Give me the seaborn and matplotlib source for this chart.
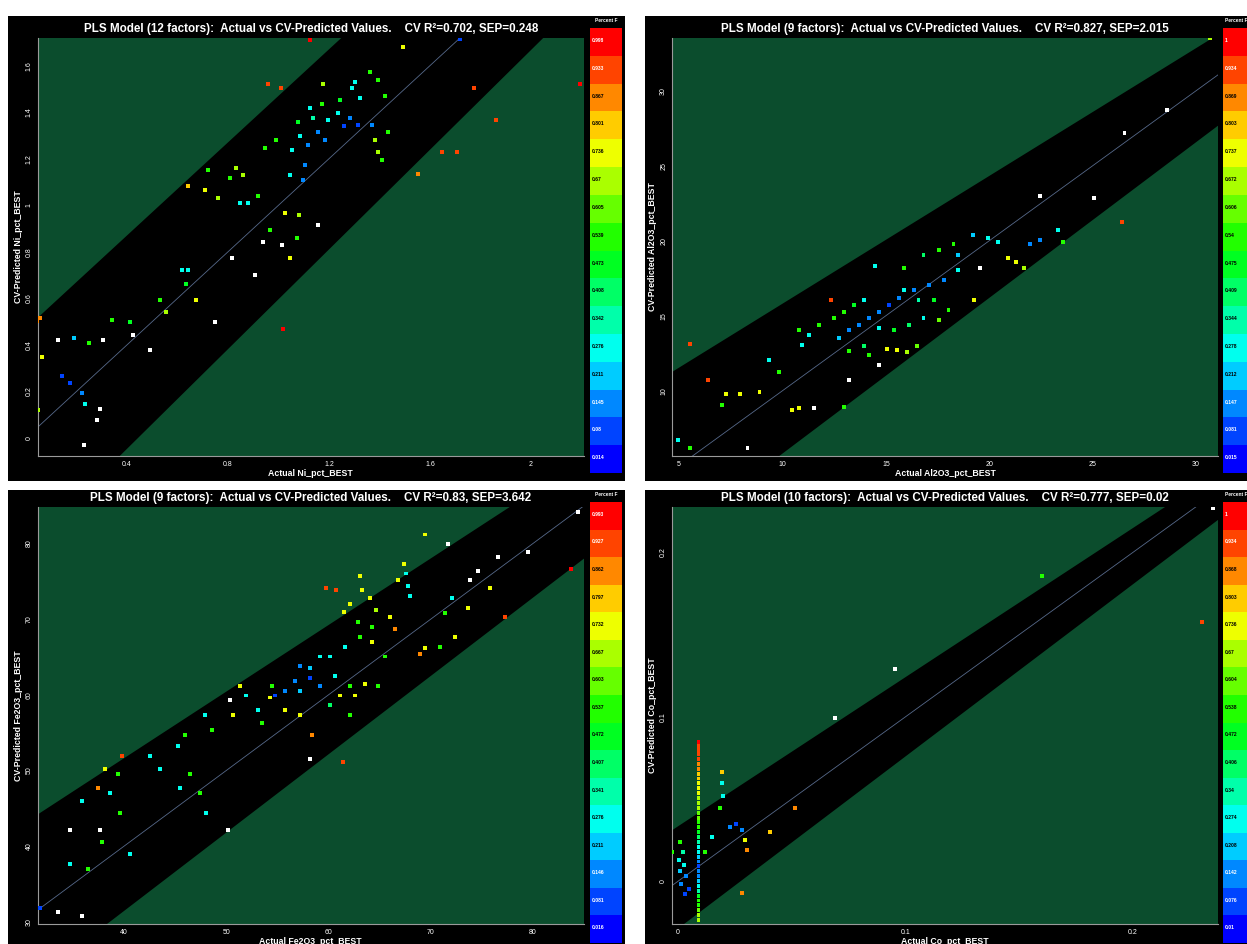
import colorsys

import numpy as np
import pandas as pd
import matplotlib.pyplot as plt
import seaborn as sns
from matplotlib.patches import Rectangle

# ---- data: actual vs CV-predicted, and "Percent F" of each sample (-1 = drawn white) ----
ni_actual = [1.125, 1.493, 1.719, 2.194, 1.775, 1.862, 1.648, 1.707, 1.553, 0.959,
             1.010, 1.018, 0.056, 0.046, 0.064, 0.048, 0.230, 0.293, 0.281, 0.175,
             0.222, 0.143, 0.234, 0.191, 0.250, 0.127, 0.341, 0.412, 0.305, 0.424,
             0.492, 0.531, 0.555, 0.618, 0.642, 0.634, 0.674, 0.749, 0.642, 0.709,
             0.761, 0.721, 0.808, 0.832, 0.860, 0.848, 0.880, 0.919, 0.947, 0.990,
             1.026, 1.081, 1.157, 1.073, 1.014, 1.046, 0.939, 0.816, 1.085, 1.157,
             1.185, 1.117, 1.054, 1.105, 1.097, 1.046, 1.260, 1.315, 1.371, 1.236,
             1.283, 1.196, 1.137, 1.078, 1.422, 1.323, 1.244, 1.173, 1.125, 1.363,
             1.303, 1.394, 1.292, 1.177, 1.383, 1.434, 1.394, 1.410, 0.967, 0.907]
ni_pred = [1.710, 1.680, 1.715, 1.521, 1.504, 1.366, 1.229, 1.229, 1.134, 1.521,
           1.504, 0.469, 0.516, 0.503, 0.348, 0.121, -0.030, 0.125, 0.078, 0.237,
           0.194, 0.267, 0.146, 0.430, 0.408, 0.421, 0.507, 0.499, 0.421, 0.443,
           0.378, 0.593, 0.542, 0.722, 0.722, 0.662, 0.593, 0.499, 1.083, 1.066,
           1.031, 1.152, 1.117, 1.160, 1.130, 1.010, 1.010, 1.040, 1.246, 1.280,
           0.967, 0.958, 0.915, 0.860, 0.830, 0.774, 0.842, 0.774, 1.298, 1.315,
           1.281, 1.259, 1.238, 1.173, 1.109, 1.130, 1.341, 1.345, 1.345, 1.396,
           1.375, 1.366, 1.375, 1.358, 1.470, 1.461, 1.452, 1.435, 1.418, 1.573,
           1.530, 1.538, 1.504, 1.521, 1.281, 1.315, 1.229, 1.195, 0.894, 0.701]
ni_pf = [0.99, 0.74, 0.08, 0.99, 0.93, 0.93, 0.93, 0.93, 0.88, 0.93,
         0.93, 0.99, 0.87, 0.87, 0.73, 0.70, -1, -1, -1, 0.08,
         0.14, 0.08, 0.27, 0.20, 0.50, -1, 0.50, 0.45, -1, -1,
         -1, 0.55, 0.70, 0.30, 0.27, 0.45, 0.75, -1, 0.80, 0.73,
         0.70, 0.55, 0.50, 0.70, 0.70, 0.30, 0.30, 0.50, 0.50, 0.55,
         0.75, 0.70, -1, 0.50, -1, 0.72, -1, -1, 0.30, 0.14,
         0.10, 0.12, 0.28, 0.10, 0.14, 0.25, 0.08, 0.08, 0.10, 0.25,
         0.15, 0.30, 0.33, 0.45, 0.50, 0.30, 0.45, 0.55, 0.30, 0.50,
         0.30, 0.55, 0.28, 0.70, 0.70, 0.50, 0.70, 0.50, 0.50, -1]

al_actual = [30.67, 28.60, 26.54, 25.05, 26.44, 22.45, 22.45, 21.97, 20.43, 20.91,
             21.30, 21.68, 19.56, 19.28, 18.27, 17.55, 16.82, 15.86, 14.47, 18.51,
             17.79, 17.07, 16.34, 15.62, 15.14, 14.66, 14.18, 13.70, 13.22, 12.74,
             15.86, 16.58, 17.31, 18.03, 17.55, 16.82, 16.10, 15.38, 14.66, 13.94,
             13.46, 12.98, 12.50, 12.35, 11.78, 11.30, 10.81, 10.96, 13.22, 13.94,
             15.04, 15.53, 16.01, 16.49, 14.18, 14.66, 13.22, 12.98, 11.53, 10.48,
             10.81, 9.85, 9.37, 8.89, 7.93, 7.26, 7.06, 6.39, 5.53, 4.95,
             5.53, 8.31, 19.23, 19.95, 23.32, 23.56, 18.51]
al_pred = [33.50, 28.72, 27.18, 22.85, 21.25, 22.98, 20.05, 19.78, 19.92, 18.85,
           18.58, 18.18, 18.18, 16.05, 19.78, 19.38, 19.05, 18.18, 18.32, 18.05,
           17.38, 17.05, 16.72, 16.18, 15.72, 15.25, 14.85, 14.38, 14.05, 13.52,
           16.72, 16.05, 16.05, 15.38, 14.72, 14.85, 14.38, 14.05, 14.18, 16.05,
           15.72, 15.25, 14.85, 16.05, 14.38, 13.72, 14.05, 13.05, 12.65, 12.98,
           12.78, 12.72, 12.58, 12.98, 12.38, 11.72, 10.72, 8.92, 8.85, 8.72,
           8.85, 11.25, 12.05, 9.92, 9.78, 9.78, 9.05, 10.72, 13.12, 6.72,
           6.18, 6.18, 20.38, 20.18, 20.72, 19.92, 19.05]
al_pf = [0.70, -1, -1, -1, 0.95, -1, 0.15, 0.10, 0.25, 0.72,
         0.74, 0.70, -1, 0.75, 0.50, 0.55, 0.40, 0.50, 0.30, 0.30,
         0.15, 0.10, 0.10, 0.10, 0.08, 0.12, 0.10, 0.15, 0.10, 0.20,
         0.30, 0.35, 0.45, 0.55, 0.60, 0.30, 0.40, 0.45, 0.30, 0.30,
         0.45, 0.50, 0.55, 0.90, 0.50, 0.30, 0.55, 0.30, 0.50, 0.40,
         0.75, 0.73, 0.70, 0.60, 0.55, -1, -1, 0.55, -1, 0.72,
         0.72, 0.55, 0.30, 0.75, 0.72, 0.72, 0.55, 0.95, 0.95, 0.30,
         0.50, -1, 0.20, 0.25, 0.25, 0.55, 0.20]

fe_actual = [84.40, 83.71, 77.26, 79.51, 76.57, 74.62, 73.84, 71.69, 69.44, 67.39,
             67.58, 67.78, 67.97, 66.80, 66.01, 66.50, 69.44, 68.95, 63.08, 59.76,
             60.74, 63.28, 64.06, 64.64, 62.10, 61.52, 62.89, 64.26, 65.53, 63.08,
             64.26, 61.61, 60.15, 59.17, 58.19, 57.21, 58.19, 59.17, 56.72, 55.74,
             54.77, 57.21, 60.64, 62.10, 61.12, 62.59, 63.57, 64.84, 60.15, 62.10,
             57.21, 58.39, 61.42, 58.19, 54.47, 54.28, 55.74, 51.34, 51.93, 53.10,
             53.50, 50.37, 50.66, 47.92, 48.61, 45.96, 45.28, 43.52, 42.54, 39.80,
             39.41, 38.14, 38.63, 35.89, 37.46, 37.65, 37.85, 40.59, 34.72, 34.72,
             36.48, 31.78, 33.54, 35.89, 47.43, 48.02, 50.17, 45.48, 46.45, 39.61,
             72.08, 71.39, 73.64, 75.79, 72.37, 70.90]
fe_pred = [84.16, 76.68, 70.23, 78.87, 78.22, 76.42, 75.13, 79.90, 81.19, 77.32,
           76.03, 74.35, 73.06, 75.13, 70.23, 68.68, 66.23, 65.45, 75.65, 74.10,
           73.84, 73.84, 72.81, 71.26, 72.03, 71.00, 69.58, 68.94, 65.07, 67.65,
           67.00, 66.36, 65.07, 65.07, 63.52, 63.78, 62.23, 61.20, 61.84, 60.55,
           59.91, 60.55, 62.49, 61.20, 59.91, 59.91, 61.46, 61.20, 58.62, 57.33,
           57.33, 54.75, 51.14, 51.52, 61.20, 59.65, 57.98, 61.20, 59.91, 57.98,
           56.30, 59.26, 57.33, 57.33, 55.39, 54.75, 53.20, 50.23, 51.91, 51.91,
           49.59, 50.23, 47.01, 45.97, 47.65, 42.10, 40.56, 39.01, 42.10, 37.59,
           36.94, 31.78, 31.27, 30.75, 47.01, 44.43, 42.10, 47.65, 49.59, 44.43,
           72.81, 70.87, 71.52, 74.10, 67.65, 66.36]
fe_pf = [-1, 0.99, 0.95, -1, -1, -1, -1, -1, 0.75, 0.75,
         0.30, 0.25, 0.30, 0.72, 0.72, 0.85, 0.75, 0.85, 0.72, 0.95,
         0.95, 0.72, 0.72, 0.70, 0.72, 0.72, 0.55, 0.55, 0.50, 0.50,
         0.72, 0.30, 0.25, 0.30, 0.20, 0.10, 0.08, 0.10, 0.12, 0.10,
         0.08, 0.20, 0.30, 0.50, 0.72, 0.72, 0.72, 0.50, 0.40, 0.50,
         0.72, 0.85, 0.95, -1, 0.50, 0.72, 0.72, 0.72, 0.30, 0.30,
         0.55, -1, 0.72, 0.30, 0.50, 0.55, 0.30, 0.30, 0.30, 0.95,
         0.50, 0.75, 0.30, 0.30, 0.85, -1, 0.50, 0.30, -1, 0.30,
         0.50, 0.08, -1, -1, 0.50, 0.30, -1, 0.30, 0.50, 0.50,
         0.30, 0.50, 0.72, 0.72, 0.72, 0.55]

co_actual = [0.009] * 38 + [
    0.001, 0.002, 0.0005, 0.0025, 0.001, 0.0035, 0.0015, 0.005, 0.003,
    -0.0026, 0.0119, 0.0150, 0.0185, 0.0198, 0.0194, 0.0194, 0.0229, 0.0255, 0.0282,
    0.0295, 0.0303, 0.0281, 0.0404, 0.0514, 0.0690, 0.0954, 0.1600, 0.2303, 0.2351]
co_pred = [0.0845, 0.0821, 0.0797, 0.0774, 0.0744, 0.0714, 0.0684, 0.0655, 0.0625, 0.0595,
           0.0566, 0.0536, 0.0506, 0.0477, 0.0447, 0.0417, 0.0387, 0.0358, 0.0328, 0.0298,
           0.0269, 0.0239, 0.0209, 0.0180, 0.0150, 0.0120, 0.0090, 0.0061, 0.0031, 0.0001,
           -0.0028, -0.0058, -0.0088, -0.0117, -0.0147, -0.0177, -0.0207, -0.0236,
           0.0239, 0.0180, 0.0132, 0.0096, 0.0061, 0.0031, -0.0016, -0.0046, -0.0080,
           0.0180, 0.0180, 0.0269, 0.0447, 0.0518, 0.0595, 0.0667, 0.0328, 0.0346, 0.0310,
           0.0251, 0.0191, -0.0070, 0.0298, 0.0447, 0.0993, 0.1290, 0.1855, 0.1575, 0.2270]
co_pf = [0.97, 0.95, 0.95, 0.93, 0.90, 0.87, 0.85, 0.82, 0.80, 0.75,
         0.75, 0.72, 0.70, 0.68, 0.65, 0.62, 0.58, 0.55, 0.50, 0.45,
         0.40, 0.35, 0.30, 0.25, 0.18, 0.10, 0.05, 0.10, 0.15, 0.20,
         0.30, 0.35, 0.45, 0.50, 0.55, 0.60, 0.65, 0.70,
         0.50, 0.35, 0.30, 0.25, 0.20, 0.15, 0.10, 0.08, 0.05,
         0.50, 0.50, 0.30, 0.50, 0.30, 0.30, 0.80, 0.10, 0.08, 0.12,
         0.72, 0.85, 0.85, 0.80, 0.85, -1, -1, 0.50, 0.95, -1]

titles = [
    "PLS Model (12 factors):  Actual vs CV-Predicted Values.    CV R\u00b2=0.702, SEP=0.248",
    "PLS Model (9 factors):  Actual vs CV-Predicted Values.    CV R\u00b2=0.827, SEP=2.015",
    "PLS Model (9 factors):  Actual vs CV-Predicted Values.    CV R\u00b2=0.83, SEP=3.642",
    "PLS Model (10 factors):  Actual vs CV-Predicted Values.    CV R\u00b2=0.777, SEP=0.02",
]
analytes = ["Ni", "Al2O3", "Fe2O3", "Co"]
key_labels = [
    ["0.998", "0.933", "0.867", "0.801", "0.736", "0.67", "0.605", "0.539",
     "0.473", "0.408", "0.342", "0.276", "0.211", "0.145", "0.08", "0.014"],
    ["1", "0.934", "0.869", "0.803", "0.737", "0.672", "0.606", "0.54",
     "0.475", "0.409", "0.344", "0.278", "0.212", "0.147", "0.081", "0.015"],
    ["0.993", "0.927", "0.862", "0.797", "0.732", "0.667", "0.603", "0.537",
     "0.472", "0.407", "0.341", "0.276", "0.211", "0.146", "0.081", "0.016"],
    ["1", "0.934", "0.868", "0.803", "0.736", "0.67", "0.604", "0.538",
     "0.472", "0.406", "0.34", "0.274", "0.208", "0.142", "0.076", "0.01"],
]

x_limits = [(0.046, 2.21), (4.66, 31.06), (31.54, 84.99), (-0.00264, 0.2374)]
y_limits = [(-0.077, 1.721), (5.65, 33.55), (29.72, 84.82), (-0.026, 0.2276)]
x_ticks = [[0.4, 0.8, 1.2, 1.6, 2], [5, 10, 15, 20, 25, 30], [40, 50, 60, 70, 80], [0, 0.1, 0.2]]
y_ticks = [[0, 0.2, 0.4, 0.6, 0.8, 1, 1.2, 1.4, 1.6], [10, 15, 20, 25, 30],
           [30, 40, 50, 60, 70, 80], [0, 0.1, 0.2]]
# edges of the black acceptance band: (slope, intercept)
band_upper = [(1.0, 0.47), (0.852, 7.28), (0.880, 16.42), (0.907, 0.0334)]
band_lower = [(1.071, -0.475), (1.038, -4.57), (1.035, -9.96), (1.047, -0.0288)]

panels = [
    (ni_actual, ni_pred, ni_pf),
    (al_actual, al_pred, al_pf),
    (fe_actual, fe_pred, fe_pf),
    (co_actual, co_pred, co_pf),
]

# ---- style ----
W, H = 1247, 944
GREEN = "#0b4d2d"
AXIS_GRAY = "#9a9a9a"
sns.set_theme(style="white")
plt.rcParams["font.family"] = ["Liberation Sans", "DejaVu Sans"]

n_bands = 16
band_colors = [colorsys.hsv_to_rgb((240 * i / 15) / 360, 1, 1) for i in range(n_bands)]  # red -> blue
point_colors = {k: band_colors[k] for k in range(n_bands)}
point_colors[n_bands] = (1.0, 1.0, 1.0)


def band_index(v, top=1.0, bottom=0.0):
    # 0 = top (red) band, 15 = bottom (blue) band, 16 = white
    if v < 0:
        return n_bands
    edges = np.linspace(top, bottom, n_bands)
    return int(np.argmin(np.abs(edges - v)))


def px_box(x0, y0, x1, y1):
    return [x0 / W, 1 - y1 / H, (x1 - x0) / W, (y1 - y0) / H]


fig = plt.figure(figsize=(W / 100, H / 100), dpi=100, facecolor="white")

panel_boxes = [(8, 16, 625, 481), (645, 16, 1247, 481), (8, 490, 625, 944), (645, 490, 1247, 944)]
axes_boxes = [(37.5, 37.5, 584, 456), (672, 37.5, 1218, 456), (37.5, 507, 584, 924), (672, 507, 1218, 924)]
cbar_boxes = [(590, 28, 622, 473), (1223, 28, 1250, 473), (590, 502, 622, 943), (1223, 502, 1250, 943)]
header_x = [606, 1236, 606, 1236]

for i in range(4):
    px0, py0, px1, py1 = panel_boxes[i]
    fig.patches.append(Rectangle((px0 / W, 1 - py1 / H), (px1 - px0) / W, (py1 - py0) / H,
                                 transform=fig.transFigure, facecolor="black", edgecolor="none", zorder=-5))

    actual, pred, pf = panels[i]
    df = pd.DataFrame({"actual": actual, "pred": pred, "band": [band_index(v) for v in pf]})

    ax = fig.add_axes(px_box(*axes_boxes[i]))
    ax.set_facecolor(GREEN)
    x0, x1 = x_limits[i]
    y0, y1 = y_limits[i]
    span = max(x1, y1) - min(x0, y0)
    xs = np.array([min(x0, y0) - span, max(x1, y1) + span])
    (su, iu), (sl, il) = band_upper[i], band_lower[i]
    ax.fill_between(xs, sl * xs + il, su * xs + iu, color="black", lw=0, zorder=1)
    ax.plot(xs, xs, color="#56698a", lw=0.6, zorder=2)

    sns.scatterplot(data=df, x="actual", y="pred", hue="band", palette=point_colors,
                    marker="s", s=8, linewidth=0, legend=False, ax=ax, zorder=3)

    ax.set_xlim(x0, x1)
    ax.set_ylim(y0, y1)
    ax.set_xticks(x_ticks[i])
    ax.set_yticks(y_ticks[i])
    ax.set_xticklabels([f"{t:g}" for t in x_ticks[i]])
    ax.set_yticklabels([f"{t:g}" for t in y_ticks[i]], rotation=90, va="center")
    ax.minorticks_on()
    ax.tick_params(which="both", colors=AXIS_GRAY, labelcolor="white", labelsize=5,
                   direction="out", pad=1)
    ax.tick_params(which="major", length=2.5, width=0.6)
    ax.tick_params(which="minor", length=1.2, width=0.5)
    for side in ["top", "right"]:
        ax.spines[side].set_visible(False)
    for side in ["left", "bottom"]:
        ax.spines[side].set_color(AXIS_GRAY)
        ax.spines[side].set_linewidth(0.8)
    ax.set_xlabel(f"Actual {analytes[i]}_pct_BEST", color="white", fontsize=6.3,
                  fontweight="bold", labelpad=0.5)
    ax.set_ylabel(f"CV-Predicted {analytes[i]}_pct_BEST", color="white", fontsize=6.3,
                  fontweight="bold", labelpad=2)
    ax.set_title(titles[i], color="white", fontsize=8.4, fontweight="bold", pad=4)

    # discrete colour key
    cax = fig.add_axes(px_box(*cbar_boxes[i]))
    key = pd.DataFrame(np.arange(n_bands).reshape(-1, 1))
    sns.heatmap(key, cmap=band_colors, cbar=False, xticklabels=False, yticklabels=False, ax=cax)
    for k, lab in enumerate(key_labels[i]):
        r, g, b = band_colors[k]
        lum = 0.3 * r + 0.59 * g + 0.11 * b
        cax.text(0.07, k + 0.45, lab, fontsize=3.6, fontweight="bold",
                 color="black" if lum > 0.5 else "white", ha="left", va="center")
    fig.text(header_x[i] / W, 1 - (cbar_boxes[i][1] - 7) / H, "Percent F",
             color="white", fontsize=3.5, fontweight="bold", ha="center", va="center")

fig.savefig("out.png", dpi=100, facecolor="white")
